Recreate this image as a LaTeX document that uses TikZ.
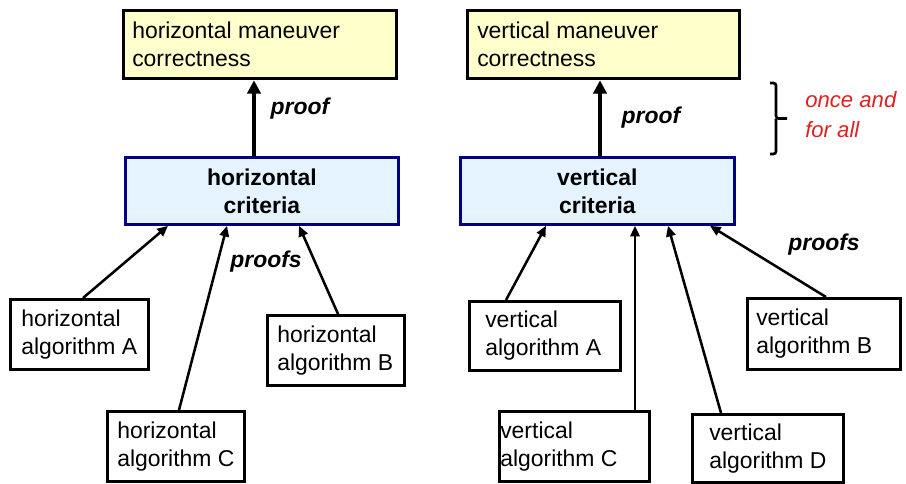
\documentclass[tikz,border=0pt]{standalone}
\usepackage{fontspec}
\setmainfont{Liberation Sans}
\usetikzlibrary{arrows.meta}
\definecolor{yfill}{HTML}{FFFFCC}
\definecolor{bfill}{HTML}{E4F3FD}
\definecolor{bdraw}{HTML}{000080}
\definecolor{redtxt}{HTML}{E02020}
\tikzset{
  ybox/.style={draw=black, fill=yfill, line width=2.5pt, anchor=north west, inner sep=0pt},
  bbox/.style={draw=bdraw, fill=bfill, line width=2.1pt, anchor=north west, align=center, inner sep=0pt,
    font=\fontsize{17.2}{21}\selectfont\bfseries},
  abox/.style={draw=black, fill=white, line width=2.2pt, anchor=north west, inner sep=0pt},
  txt/.style={anchor=west, align=left, inner sep=0pt, font=\fontsize{17.2}{21}\selectfont},
  lbl/.style={inner sep=0pt, font=\fontsize{17.2}{21}\selectfont\bfseries\itshape},
  redl/.style={inner sep=0pt, anchor=base west, text=redtxt, font=\fontsize{16.6}{20}\selectfont\itshape},
  thin arrow/.style={line width=1.9pt, -{Triangle[length=8pt,width=7pt]}},
  thick arrow/.style={line width=3pt, -{Triangle[length=10pt,width=10pt]}},
}
\begin{document}
\begin{tikzpicture}[x=0.75pt, y=-0.75pt]
\useasboundingbox (0,0) rectangle (906,483);
% top boxes
\node[ybox, minimum width=204.75pt, minimum height=51pt] (hM) at (122,9) {};
\node[txt] (hMt) at ([xshift=7.5pt]hM.west) {horizontal maneuver\\correctness};
\node[ybox, minimum width=204pt, minimum height=51pt] (vM) at (466,9) {};
\node[txt] (vMt) at ([xshift=8.25pt]vM.west) {vertical maneuver\\correctness};
% criteria
\node[bbox, minimum width=204.75pt, minimum height=50.25pt] (hCr) at (124,156) {horizontal\\criteria};
\node[bbox, minimum width=205.5pt, minimum height=50.25pt] (vCr) at (459,156) {vertical\\criteria};
% horizontal algorithms
\node[abox, minimum width=103.5pt, minimum height=52.5pt] (hA) at (9,298) {};
\node[txt] (hAt) at ([xshift=9pt]hA.west) {horizontal\\algorithm A};
\node[abox, minimum width=102.75pt, minimum height=52.5pt] (hB) at (266,314) {};
\node[txt] (hBt) at ([xshift=8.25pt]hB.west) {horizontal\\algorithm B};
\node[abox, minimum width=102.75pt, minimum height=52.5pt] (hC) at (106,410) {};
\node[txt] (hCt) at ([xshift=8.25pt]hC.west) {horizontal\\algorithm C};
% vertical algorithms
\node[abox, minimum width=113.25pt, minimum height=51.75pt] (vA) at (468,300) {};
\node[txt] (vAt) at ([xshift=12.75pt]vA.west) {vertical\\algorithm A};
\node[abox, minimum width=114.75pt, minimum height=53.25pt] (vB) at (746,297) {};
\node[txt] (vBt) at ([xshift=7.5pt]vB.west) {vertical\\algorithm B};
\node[abox, minimum width=112.5pt, minimum height=52.5pt] (vC) at (498,410) {};
\node[txt] (vCt) at ([xshift=1.5pt]vC.west) {vertical\\algorithm C};
\node[abox, minimum width=113.25pt, minimum height=51pt] (vD) at (691,413) {};
\node[txt] (vDt) at ([xshift=13.5pt]vD.west) {vertical\\algorithm D};
% proof arrows
\draw[thick arrow] ([xshift=97.5pt]hCr.north west) -- ([xshift=97.5pt]hCr.north west |- hM.south);
\draw[thick arrow] ([xshift=105.75pt]vCr.north west) -- ([xshift=105.75pt]vCr.north west |- vM.south);
% horizontal proofs
\draw[thin arrow] ([xshift=55.5pt]hA.north west) -- ([xshift=33pt]hCr.south west);
\draw[thin arrow] ([xshift=54.75pt]hC.north west) -- ([xshift=77.25pt]hCr.south west);
\draw[thin arrow] ([xshift=54pt]hB.north west) -- ([xshift=131.25pt]hCr.south west);
% vertical proofs
\draw[thin arrow] ([xshift=28.5pt]vA.north west) -- ([xshift=65.25pt]vCr.south west);
\draw[thin arrow] ([xshift=102.75pt]vC.north west) -- ([xshift=132pt]vCr.south west);
\draw[thin arrow] ([xshift=22.5pt]vD.north west) -- ([xshift=156.75pt]vCr.south west);
\draw[thin arrow] ([xshift=60pt]vB.north west) -- ([xshift=188.25pt]vCr.south west);
% labels
\node[lbl] (l1) at (300,109) {proof};
\node[lbl] (l2) at (651,118) {proof};
\node[lbl] (l3) at (266,262) {proofs};
\node[lbl] (l4) at (824,245) {proofs};
% brace
\coordinate (b1) at (770,83);
\coordinate (b2) at (770,154);
\draw[line width=2pt, rounded corners=2pt] (b1) -- (776,83) -- (776,118.5) -- (787,118.5);
\draw[line width=2pt, rounded corners=2pt] (776,118.5) -- (776,154) -- (b2);
\node[redl] (r1) at (805,107) {once and};
\node[redl] (r2) at (805,137) {for all};
\end{tikzpicture}
\end{document}
